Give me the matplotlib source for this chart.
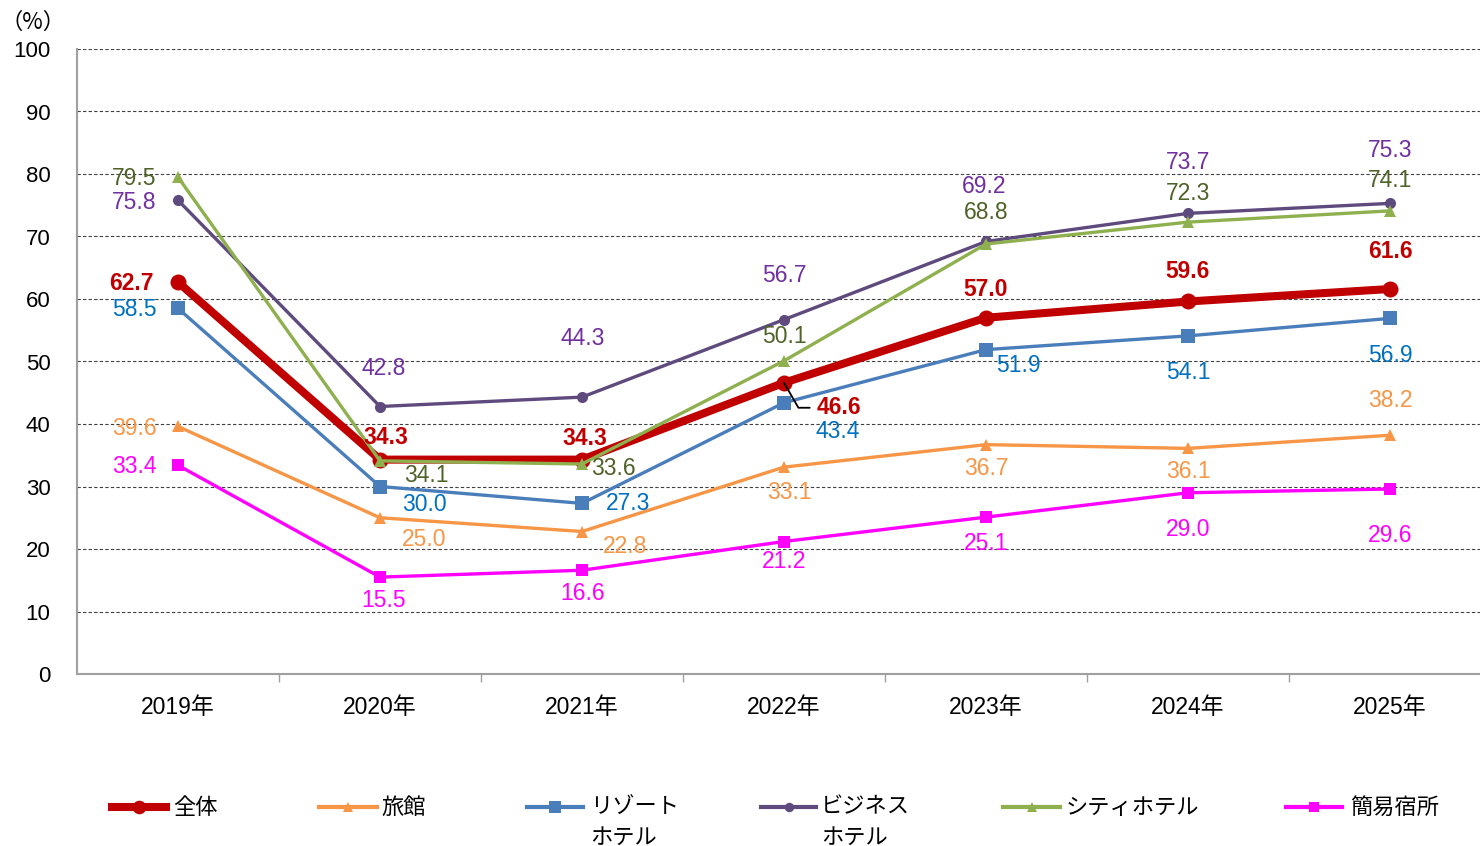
import matplotlib
matplotlib.use('Agg')
import matplotlib.pyplot as plt
from matplotlib.lines import Line2D

plt.rcParams['font.family'] = ['Liberation Sans', 'Noto Sans CJK JP', 'DejaVu Sans']

# ---------------- data ----------------
years = ['2019年', '2020年', '2021年', '2022年', '2023年', '2024年', '2025年']
total = [62.7, 34.3, 34.3, 46.6, 57.0, 59.6, 61.6]
ryokan = [39.6, 25.0, 22.8, 33.1, 36.7, 36.1, 38.2]
resort = [58.5, 30.0, 27.3, 43.4, 51.9, 54.1, 56.9]
business = [75.8, 42.8, 44.3, 56.7, 69.2, 73.7, 75.3]
city = [79.5, 34.1, 33.6, 50.1, 68.8, 72.3, 74.1]
simple = [33.4, 15.5, 16.6, 21.2, 25.1, 29.0, 29.6]
series_names = ['全体', '旅館', 'リゾート\nホテル', 'ビジネス\nホテル', 'シティホテル', '簡易宿所']
yticks = [0, 10, 20, 30, 40, 50, 60, 70, 80, 90, 100]

# ---------------- styles ----------------
styles = [
    dict(color='#C00000', marker='o', ms=11.5, lw=5.8, tc='#C00000', bold=True),
    dict(color='#F79646', marker='^', ms=8.5, lw=2.4, tc='#F79646', bold=False),
    dict(color='#4A7EBB', marker='s', ms=9.5, lw=2.4, tc='#0070C0', bold=False),
    dict(color='#5F4A7E', marker='o', ms=8.0, lw=2.4, tc='#7030A0', bold=False),
    dict(color='#8FB04F', marker='^', ms=9.0, lw=2.4, tc='#4F6228', bold=False),
    dict(color='#FF00FF', marker='s', ms=9.0, lw=2.4, tc='#FF00FF', bold=False),
]
# label offsets in pixels (dx, dy) relative to each point
offsets = [
    [(-47, -1), (6, 22), (3, 21), (55, -25), (0, 28), (0, 30), (0, 38)],
    [(-44, -2), (44, -22), (43, -15), (5, -25), (0, -24), (0, -23), (0, 35)],
    [(-44, -1), (44, -18), (46, 0), (54, -29), (32, -16), (0, -37), (0, -37)],
    [(-44, -2), (4, 38), (1, 59), (0, 44), (-2, 55), (0, 51), (0, 53)],
    [(-44, -1), (46, -15), (31, -4), (0, 24), (0, 32), (0, 29), (0, 30)],
    [(-44, -1), (4, -23), (1, -23), (0, -20), (0, -26), (0, -37), (0, -46)],
]

W, H = 1480, 846
fig = plt.figure(figsize=(W / 100, H / 100), dpi=100)
ax = fig.add_axes([77 / W, (H - 674) / H, (1491 - 77) / W, 625 / H])

x = list(range(len(years)))
all_series = [total, ryokan, resort, business, city, simple]

for vals, st in zip(all_series, styles):
    ax.plot(x, vals, color=st['color'], lw=st['lw'], marker=st['marker'],
            ms=st['ms'], markeredgewidth=0, solid_joinstyle='round', zorder=3)

LABEL_FS = 16.5
for si, (vals, st, offs) in enumerate(zip(all_series, styles, offsets)):
    for i, v in enumerate(vals):
        dx, dy = offs[i]
        kw = {}
        if si == 0 and i == 3:
            kw = dict(arrowprops=dict(arrowstyle='-', color='black', lw=1.3,
                                      connectionstyle='angle,angleA=0,angleB=-60,rad=0',
                                      relpos=(0, 0.5), shrinkA=3, shrinkB=0))
        ax.annotate(f'{v:.1f}', (i, v), xytext=(dx, dy), textcoords='offset pixels',
                    ha='center', va='center', fontsize=LABEL_FS, color=st['tc'],
                    fontweight='bold' if st['bold'] else 'normal', zorder=5, **kw)

ax.set_xlim(-0.5, len(years) - 0.5)
ax.set_ylim(0, 100)
ax.set_yticks(yticks)
ax.set_yticklabels([str(t) for t in yticks], fontsize=16)
ax.tick_params(axis='y', length=0, pad=19)

ax.set_xticks([i + 0.5 for i in range(len(years) - 1)])
ax.set_xticklabels([])
ax.tick_params(axis='x', which='major', length=6, width=1, color='#A0A0A0', direction='out')
ax.set_xticks(x, minor=True)
ax.set_xticklabels(years, minor=True, fontsize=16.5)
ax.tick_params(axis='x', which='minor', length=0, pad=16)

ax.grid(axis='y', linestyle=(0, (3, 2)), color='#404040', lw=0.8)
ax.set_axisbelow(True)
for s in ['top', 'right']:
    ax.spines[s].set_visible(False)
for s in ['left', 'bottom']:
    ax.spines[s].set_color('#A0A0A0')
    ax.spines[s].set_linewidth(1.5)

fig.text(1 / W, 1 - 22 / H, '（%）', fontsize=16, ha='left', va='center',
         family=['Noto Sans CJK JP', 'DejaVu Sans'])

# ---------------- manual legend ----------------
leg_handles = [(112, 166, 173), (319, 377, 381), (527, 583, 590),
               (761, 816, 821), (1003, 1060, 1066), (1286, 1342, 1350)]
ly = 807
for (hx0, hx1, tx), name, st in zip(leg_handles, series_names, styles):
    fx = [hx0 / W, (hx0 + hx1) / 2 / W, hx1 / W]
    fy = [1 - ly / H] * 3
    fig.add_artist(Line2D(fx, fy, transform=fig.transFigure, color=st['color'],
                          lw=st['lw'] if st['lw'] > 3 else 3.0, marker=st['marker'],
                          ms=st['ms'] * 0.85, markeredgewidth=0, markevery=[1]))
    for li, line in enumerate(name.split('\n')):
        fig.text(tx / W, 1 - (ly + 30 * li) / H, line, fontsize=16,
                 ha='left', va='center', family=['Noto Sans CJK JP', 'DejaVu Sans'])

fig.savefig('out.png', dpi=100)
